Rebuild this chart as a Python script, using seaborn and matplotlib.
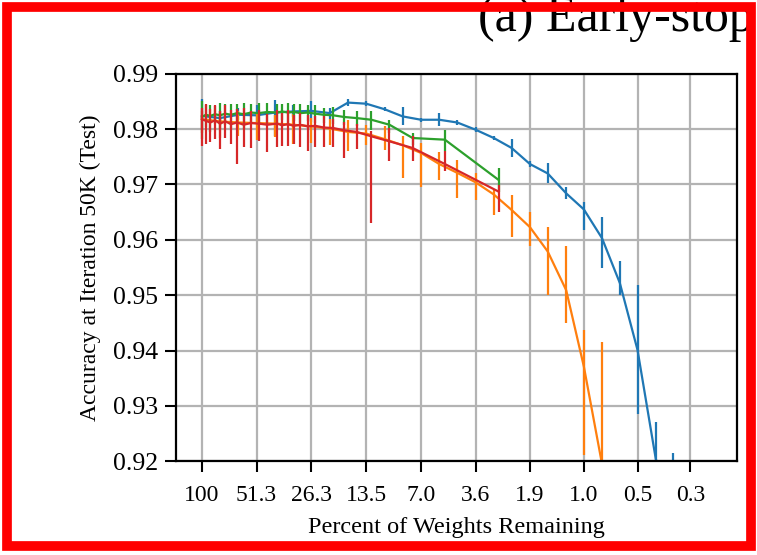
import matplotlib
matplotlib.use("Agg")

import matplotlib.pyplot as plt
import seaborn as sns
from matplotlib.patches import Rectangle
from matplotlib.ticker import NullLocator

# ----------------------------------------------------------
# Data
# ----------------------------------------------------------

# percent of weights remaining after each iterative pruning round
ITER_PERCENT = [100, 80.04, 64.06, 51.28, 41.05, 32.87, 26.32, 21.07, 16.88,
                13.52, 10.83, 8.68, 6.95, 5.57, 4.47, 3.58, 2.87, 2.31, 1.85,
                1.49, 1.19, 0.96, 0.77, 0.62, 0.50, 0.40, 0.325]

# percent of weights remaining for the one-shot runs
ONESHOT_PERCENT = [100, 95, 90, 85, 80, 75, 70, 65, 60, 55, 50, 45, 40, 37.6,
                   35.1, 32.6, 30.1, 27.6, 25.1, 22.7, 20.2, 17.7, 15.2, 12.7,
                   10.2, 7.7, 5.2, 2.7]

BLUE_ACC = [0.9824, 0.9820, 0.9826, 0.9825, 0.9830, 0.9832, 0.9833, 0.9829,
            0.9848, 0.9846, 0.9836, 0.9823, 0.9817, 0.9817, 0.9812, 0.9799,
            0.9784, 0.9766, 0.9737, 0.9720, 0.9684, 0.9655, 0.9603, 0.9522,
            0.9401, 0.9203, 0.9150]
BLUE_LO = [0.0025, 0.0012, 0.0010, 0.0012, 0.0043, 0.0010, 0.0020, 0.0010,
           0.0006, 0.0004, 0.0004, 0.0015, 0.0004, 0.0012, 0.0004, 0.0004,
           0.0004, 0.0017, 0.0005, 0.0018, 0.0010, 0.0037, 0.0054, 0.0021,
           0.0115, 0.0050, 0.0050]
BLUE_HI = [0.0030, 0.0012, 0.0012, 0.0018, 0.0023, 0.0012, 0.0018, 0.0010,
           0.0006, 0.0004, 0.0004, 0.0017, 0.0004, 0.0013, 0.0004, 0.0004,
           0.0004, 0.0017, 0.0005, 0.0018, 0.0011, 0.0014, 0.0039, 0.0039,
           0.0117, 0.0068, 0.0065]

ORANGE_ACC = [0.9818, 0.9814, 0.9812, 0.9811, 0.9810, 0.9808, 0.9805, 0.9801,
              0.9795, 0.9792, 0.9782, 0.9771, 0.9757, 0.9737, 0.9721, 0.9704,
              0.9682, 0.9654, 0.9623, 0.9579, 0.9509, 0.9371, 0.9195]
ORANGE_LO = [0.0025, 0.0030, 0.0025, 0.0030, 0.0025, 0.0035, 0.0030, 0.0030,
             0.0035, 0.0020, 0.0019, 0.0060, 0.0061, 0.0029, 0.0046, 0.0032,
             0.0037, 0.0049, 0.0035, 0.0079, 0.0060, 0.0160, 0.0100]
ORANGE_HI = [0.0015, 0.0015, 0.0020, 0.0018, 0.0015, 0.0020, 0.0015, 0.0018,
             0.0022, 0.0015, 0.0023, 0.0016, 0.0018, 0.0022, 0.0024, 0.0016,
             0.0008, 0.0027, 0.0028, 0.0045, 0.0080, 0.0066, 0.0221]

GREEN_ACC = [0.9822, 0.9826, 0.9824, 0.9827, 0.9825, 0.9828, 0.9826, 0.9829,
             0.9827, 0.9830, 0.9829, 0.9831, 0.9830, 0.9832, 0.9830, 0.9831,
             0.9829, 0.9830, 0.9828, 0.9826, 0.9825, 0.9822, 0.9820, 0.9817,
             0.9808, 0.9784, 0.9781, 0.9708]
GREEN_LO = [0.0040, 0.0022, 0.0030, 0.0018, 0.0025, 0.0020, 0.0024, 0.0019,
            0.0026, 0.0018, 0.0022, 0.0020, 0.0018, 0.0016, 0.0020, 0.0017,
            0.0018, 0.0016, 0.0017, 0.0015, 0.0016, 0.0015, 0.0014, 0.0018,
            0.0015, 0.0012, 0.0021, 0.0021]
GREEN_HI = [0.0028, 0.0018, 0.0020, 0.0015, 0.0022, 0.0017, 0.0020, 0.0016,
            0.0021, 0.0015, 0.0019, 0.0017, 0.0016, 0.0014, 0.0018, 0.0015,
            0.0016, 0.0014, 0.0015, 0.0013, 0.0015, 0.0012, 0.0013, 0.0015,
            0.0009, 0.0009, 0.0018, 0.0021]

RED_ACC = [0.9818, 0.9815, 0.9812, 0.9816, 0.9810, 0.9814, 0.9809, 0.9812,
           0.9808, 0.9811, 0.9810, 0.9808, 0.9810, 0.9807, 0.9809, 0.9806,
           0.9808, 0.9805, 0.9806, 0.9803, 0.9802, 0.9798, 0.9795, 0.9787,
           0.9778, 0.9766, 0.9737, 0.9687]
RED_LO = [0.0048, 0.0042, 0.0036, 0.0034, 0.0045, 0.0030, 0.0035, 0.0075,
          0.0040, 0.0045, 0.0032, 0.0050, 0.0042, 0.0038, 0.0040, 0.0032,
          0.0040, 0.0045, 0.0038, 0.0035, 0.0035, 0.0050, 0.0030, 0.0157,
          0.0036, 0.0024, 0.0013, 0.0036]
RED_HI = [0.0020, 0.0030, 0.0025, 0.0028, 0.0022, 0.0030, 0.0026, 0.0025,
          0.0030, 0.0022, 0.0025, 0.0020, 0.0024, 0.0022, 0.0025, 0.0020,
          0.0022, 0.0020, 0.0018, 0.0020, 0.0017, 0.0015, 0.0014, 0.0009,
          0.0024, 0.0021, 0.0023, 0.0012]

TICK_PERCENT = [100, 51.28, 26.32, 13.52, 6.95, 3.58, 1.85, 0.96, 0.50, 0.263]
TICK_LABELS = ["100", "51.3", "26.3", "13.5", "7.0", "3.6", "1.9", "1.0", "0.5", "0.3"]
Y_TICKS = [0.92, 0.93, 0.94, 0.95, 0.96, 0.97, 0.98, 0.99]

# ----------------------------------------------------------
# Plot
# ----------------------------------------------------------

def draw_series(ax, x, y, lo, hi, color):

    sns.lineplot(x=x, y=y, color=color, linewidth=1.6, ax=ax)

    ax.errorbar(
        x, y,
        yerr=[lo, hi],
        fmt="none",
        ecolor=color,
        elinewidth=1.6,
        capsize=0,
    )


def main():

    sns.set_theme(style="whitegrid")
    plt.rcParams["font.family"] = ["Liberation Serif", "DejaVu Serif"]

    fig = plt.figure(figsize=(7.57, 5.55), dpi=100)
    ax = fig.add_axes([0.233, 0.169, 0.740, 0.698])

    ax.set_xscale("log")

    series = [
        (ITER_PERCENT, BLUE_ACC, BLUE_LO, BLUE_HI, "#1f77b4"),
        (ITER_PERCENT[:len(ORANGE_ACC)], ORANGE_ACC, ORANGE_LO, ORANGE_HI, "#ff7f0e"),
        (ONESHOT_PERCENT, GREEN_ACC, GREEN_LO, GREEN_HI, "#2ca02c"),
        (ONESHOT_PERCENT, RED_ACC, RED_LO, RED_HI, "#d62728"),
    ]

    for x, y, lo, hi, color in series:
        draw_series(ax, x, y, lo, hi, color)

    ax.set_xlim(136, 0.15)
    ax.set_ylim(0.92, 0.99)

    ax.set_xticks(TICK_PERCENT)
    ax.set_xticklabels(TICK_LABELS)
    ax.xaxis.set_minor_locator(NullLocator())
    ax.set_yticks(Y_TICKS)
    ax.set_yticklabels([f"{v:.2f}" for v in Y_TICKS])

    ax.grid(True, color="#b3b3b3", linewidth=1.6)
    ax.set_axisbelow(True)

    for spine in ax.spines.values():
        spine.set_color("black")
        spine.set_linewidth(1.6)

    ax.tick_params(
        axis="both",
        which="major",
        direction="out",
        bottom=True,
        left=True,
        length=8,
        width=1.5,
        color="black",
        labelcolor="black",
    )
    ax.tick_params(axis="x", labelsize=17, pad=9)
    ax.tick_params(axis="y", labelsize=18.5, pad=5)

    ax.set_xlabel("Percent of Weights Remaining", fontsize=17.5, color="black", labelpad=8)
    ax.set_ylabel("Accuracy at Iteration 50K (Test)", fontsize=17, color="black", labelpad=9)

    fig.text(0.632, 0.944, "(a) Early-stop", fontsize=36, color="black",
             ha="left", va="baseline", zorder=1)

    fig.patches.append(Rectangle(
        (0.0099, 0.016), 0.982, 0.9705,
        transform=fig.transFigure,
        fill=False,
        edgecolor="#ff0000",
        linewidth=7,
        zorder=10,
    ))

    fig.savefig("out.png", dpi=100)
    plt.close(fig)


if __name__ == "__main__":
    main()
